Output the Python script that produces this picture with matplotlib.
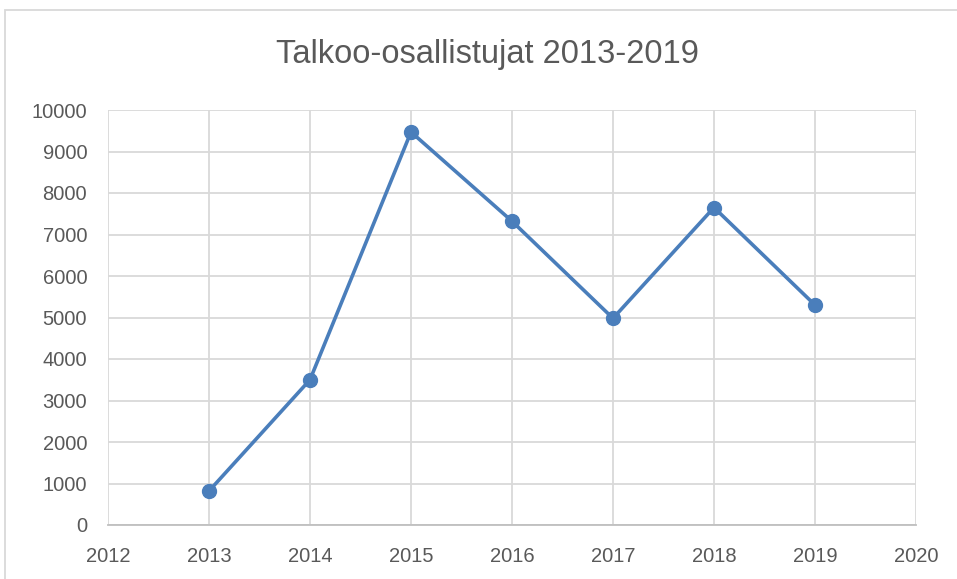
import matplotlib
matplotlib.use("Agg")
import matplotlib.pyplot as plt
from matplotlib.patches import Rectangle

# data
years = [2013, 2014, 2015, 2016, 2017, 2018, 2019]
participants = [820, 3500, 9470, 7320, 4980, 7650, 5300]
x_ticks = list(range(2012, 2021))
y_ticks = list(range(0, 10001, 1000))

plt.rcParams['font.family'] = ['Liberation Sans', 'DejaVu Sans']
text_col = '#595959'
grid_col = '#d9d9d9'

fig = plt.figure(figsize=(9.57, 5.79), dpi=100)
ax = fig.add_axes([108 / 957, 1 - 525 / 579, (916 - 108) / 957, (525 - 110) / 579])

ax.plot(years, participants, color='#4a7ebb', linewidth=2.6,
        marker='o', markersize=10, zorder=3)

ax.set_xlim(2012, 2020)
ax.set_ylim(0, 10000)
ax.set_xticks(x_ticks)
ax.set_yticks(y_ticks)
ax.grid(True, color=grid_col, linewidth=1.3)
ax.set_axisbelow(True)
for side in ['top', 'right', 'left']:
    ax.spines[side].set_visible(False)
ax.spines['bottom'].set_color('#bfbfbf')
ax.spines['bottom'].set_linewidth(1.3)
ax.tick_params(length=0, labelsize=14.5, colors=text_col)
ax.tick_params(axis='x', pad=16)
ax.tick_params(axis='y', pad=15)

fig.text(487 / 957, 1 - 55 / 579, 'Talkoo-osallistujat 2013-2019',
         ha='center', va='center', fontsize=23.5, color=text_col)

# chart area border (runs off the right and bottom edges)
fig.patches.append(Rectangle((5 / 957, -0.05), 1.1, 1 - 10 / 579 + 0.05,
                             transform=fig.transFigure, fill=False,
                             edgecolor=grid_col, linewidth=1.3))

fig.savefig('out.png', dpi=100)
